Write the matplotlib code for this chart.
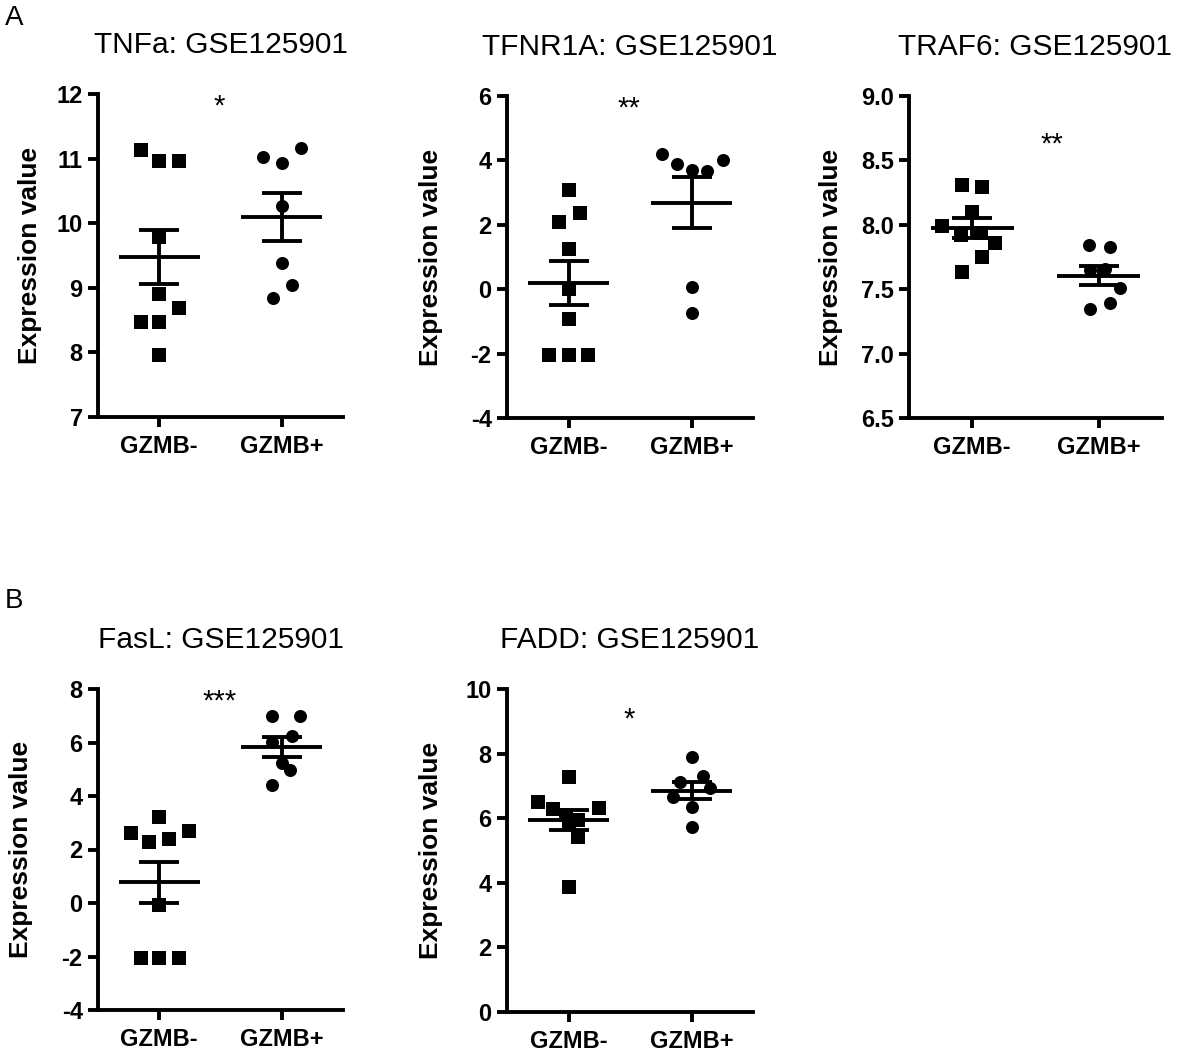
import numpy as np
import matplotlib
matplotlib.use('Agg')
from matplotlib import pyplot as plt

plt.rcParams['font.family'] = ['Liberation Sans', 'DejaVu Sans']
plt.rcParams['axes.unicode_minus'] = False

groups = ['GZMB-', 'GZMB+']
titles = ['TNFa: GSE125901', 'TFNR1A: GSE125901', 'TRAF6: GSE125901',
          'FasL: GSE125901', 'FADD: GSE125901']
stars = ['*', '**', '**', '***', '*']
star_y = [11.80, 5.62, 8.62, 7.52, 9.05]
star_x = [0.49, 0.49, 0.63, 0.49, 0.49]

# values (GZMB- squares, GZMB+ circles)
tnfa_neg = [11.14, 10.96, 10.96, 9.79, 8.91, 8.68, 8.47, 8.47, 7.96]
tnfa_pos = [11.03, 10.93, 11.17, 10.26, 9.39, 9.04, 8.84]
tfnr1a_neg = [3.07, 2.38, 2.10, 1.26, 0.02, -0.91, -2.03, -2.03, -2.03]
tfnr1a_pos = [4.21, 3.90, 3.69, 3.67, 4.00, 0.07, -0.74]
traf6_neg = [8.31, 8.29, 8.10, 7.99, 7.92, 7.94, 7.86, 7.75, 7.63]
traf6_pos = [7.84, 7.83, 7.65, 7.66, 7.51, 7.39, 7.35]
fasl_neg = [3.21, 2.62, 2.70, 2.28, 2.39, -0.07, -2.05, -2.05, -2.05]
fasl_pos = [6.99, 6.99, 6.25, 6.02, 5.25, 4.97, 4.41]
fadd_neg = [7.28, 6.50, 6.28, 6.10, 5.95, 5.85, 6.32, 5.42, 3.87]
fadd_pos = [7.89, 7.31, 7.12, 6.94, 6.66, 6.35, 5.73]

# horizontal scatter of the points (jitter as in the original)
tnfa_neg_dx = [-0.15, 0, 0.16, 0, 0, 0.16, -0.15, 0, 0]
tnfa_pos_dx = [-0.15, 0, 0.16, 0, 0, 0.08, -0.07]
tfnr1a_neg_dx = [0, 0.09, -0.08, 0, 0, 0, -0.16, 0, 0.16]
tfnr1a_pos_dx = [-0.24, -0.12, 0, 0.13, 0.26, 0, 0]
traf6_neg_dx = [-0.08, 0.08, 0, -0.24, -0.09, 0.07, 0.18, 0.08, -0.08]
traf6_pos_dx = [-0.08, 0.09, -0.07, 0.05, 0.17, 0.09, -0.07]
fasl_neg_dx = [0, -0.23, 0.24, -0.08, 0.08, 0, -0.15, 0, 0.16]
fasl_pos_dx = [-0.08, 0.15, 0.08, -0.08, 0, 0.07, -0.08]
fadd_neg_dx = [0, -0.25, -0.13, -0.02, 0.08, 0.0, 0.25, 0.08, 0]
fadd_pos_dx = [0, 0.09, -0.09, 0.15, -0.15, 0, 0]

negs = [tnfa_neg, tfnr1a_neg, traf6_neg, fasl_neg, fadd_neg]
poss = [tnfa_pos, tfnr1a_pos, traf6_pos, fasl_pos, fadd_pos]
neg_dx = [tnfa_neg_dx, tfnr1a_neg_dx, traf6_neg_dx, fasl_neg_dx, fadd_neg_dx]
pos_dx = [tnfa_pos_dx, tfnr1a_pos_dx, traf6_pos_dx, fasl_pos_dx, fadd_pos_dx]
yticks = [np.arange(7, 12.1, 1), np.arange(-4, 6.1, 2), np.arange(6.5, 9.01, 0.5),
          np.arange(-4, 8.1, 2), np.arange(0, 10.1, 2)]
ytickfmt = ['%d', '%d', '%.1f', '%d', '%d']

W, H = 1182, 1051
fig = plt.figure(figsize=(W / 100, H / 100), dpi=100)

# axes boxes in pixels: left, right, top, bottom ; ylabel offset
boxes = [(98, 343, 94, 417), (507, 753, 96, 418), (909, 1162, 96, 418),
         (98, 343, 689, 1010), (507, 753, 689, 1012)]
lab_off = [56, 64, 66, 65, 64]

LW = 2.8
for k in range(5):
    l, r, t, b = boxes[k]
    ax = fig.add_axes([l / W, 1 - b / H, (r - l) / W, (b - t) / H])
    for i, (vals, dx, mk) in enumerate([(negs[k], neg_dx[k], 's'), (poss[k], pos_dx[k], 'o')]):
        v = np.array(vals)
        ax.scatter(i + np.array(dx), v, marker=mk, s=88, color='black',
                   linewidths=0, zorder=2, clip_on=False)
        m = v.mean()
        sem = v.std(ddof=1) / np.sqrt(len(v))
        ax.hlines(m, i - 0.33, i + 0.33, color='black', lw=LW, zorder=3)
        ax.errorbar(i, m, yerr=sem, fmt='none', ecolor='black', elinewidth=LW,
                    capsize=14.4, capthick=LW, zorder=3)
    ax.text(star_x[k], star_y[k], stars[k], ha='center', va='center', fontsize=21)
    ax.set_xlim(-0.5, 1.5)
    ax.set_ylim(yticks[k][0], yticks[k][-1])
    ax.set_yticks(yticks[k])
    ax.set_yticklabels([ytickfmt[k] % v for v in yticks[k]])
    ax.set_xticks([0, 1])
    ax.set_xticklabels(groups)
    for s in ['top', 'right']:
        ax.spines[s].set_visible(False)
    for s in ['left', 'bottom']:
        ax.spines[s].set_linewidth(LW)
    ax.tick_params(axis='both', length=7, width=LW, labelsize=17)
    ax.tick_params(axis='y', pad=4)
    ax.tick_params(axis='x', pad=6)
    for lab in ax.get_xticklabels() + ax.get_yticklabels():
        lab.set_fontweight('bold')
    ax.set_ylabel('Expression value', fontsize=19, fontweight='bold')
    ax.yaxis.set_label_coords(-lab_off[k] / (r - l), 0.5)
    ax.set_title(titles[k], fontsize=21.5, pad=29.5)

fig.text(0.004, 1 - 25 / H, 'A', fontsize=20, va='baseline')
fig.text(0.004, 1 - 608 / H, 'B', fontsize=20, va='baseline')

plt.savefig('out.png', dpi=100)
